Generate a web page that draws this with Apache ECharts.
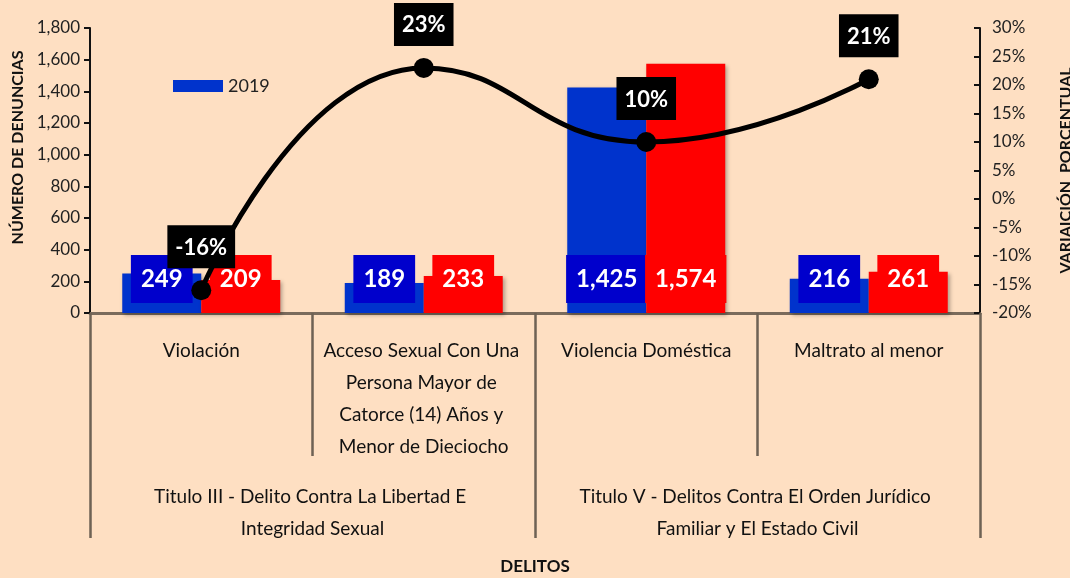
<!DOCTYPE html>
<html>
<head>
<meta charset="utf-8">
<script src="https://cdn.jsdelivr.net/npm/echarts@6/dist/echarts.min.js"></script>
<style>
	html, body { margin: 0; padding: 0; background: #FEDFC2; }
	#main { width: 1070px; height: 578px; }
</style>
</head>
<body>
<div id="main"></div>
<script>
	const categories = ['Violación', 'Acceso Sexual Con Una Persona Mayor de Catorce (14) Años y Menor de Dieciocho', 'Violencia Doméstica', 'Maltrato al menor']
	const groups = ['Titulo III - Delito Contra La Libertad E Integridad Sexual', 'Titulo V - Delitos Contra El Orden Jurídico Familiar y El Estado Civil']
	const values2019 = [249, 189, 1425, 216]
	const values2020 = [209, 233, 1574, 261]
	const variation = [-16, 23, 10, 21]

	const font = 'Lato, "Noto Sans", sans-serif'
	const chart = echarts.init(document.getElementById('main'))

	function barLabel(bg) {
		return {
			show: true,
			position: 'insideBottom',
			distance: 10,
			backgroundColor: bg,
			padding: [9, 10, 9, 10],
			color: '#fff',
			fontSize: 24,
			fontWeight: 'bold',
			fontFamily: font,
			lineHeight: 30,
			formatter: p => p.value.toLocaleString('en-US')
		}
	}

	let option = {
		backgroundColor: '#FEDFC2',
		animation: false,
		textStyle: { fontFamily: font },
		grid: { left: 90, right: 90, top: 28, bottom: 265, outerBoundsMode: 'none', containLabel: false },
		legend: {
			data: ['2019'],
			left: 168,
			top: 72,
			itemWidth: 50,
			itemHeight: 12,
			icon: 'rect',
			textStyle: { fontSize: 18, color: '#222', fontFamily: font }
		},
		xAxis: [{
			type: 'category',
			data: categories,
			axisLine: { onZero: false, lineStyle: { color: '#7a6b5c', width: 3 } },
			axisTick: { show: true, interval: 0, length: 143, lineStyle: { color: '#6e6254', width: 2.5 } },
			axisLabel: {
				interval: 0,
				margin: 22,
				width: 215,
				overflow: 'break',
				fontSize: 19,
				lineHeight: 32,
				color: '#111',
				fontFamily: font
			}
		}, {
			type: 'category',
			data: groups,
			position: 'bottom',
			axisLine: { show: false, onZero: false },
			axisTick: { show: true, interval: 0, length: 225, lineStyle: { color: '#6e6254', width: 2.5 } },
			axisLabel: {
				interval: 0,
				margin: 168,
				width: 400,
				overflow: 'break',
				fontSize: 19,
				lineHeight: 32,
				color: '#111',
				fontFamily: font
			},
			name: 'DELITOS',
			nameLocation: 'middle',
			nameGap: 245,
			nameTextStyle: { fontSize: 17, fontWeight: 'bold', color: '#111', fontFamily: font }
		}],
		yAxis: [{
			type: 'value',
			min: 0,
			max: 1800,
			interval: 200,
			splitLine: { show: false },
			axisLine: { show: true, lineStyle: { color: '#111', width: 2 } },
			axisTick: { show: true, length: 6, lineStyle: { color: '#111', width: 2 } },
			axisLabel: { fontSize: 17, color: '#222', margin: 10, fontFamily: font, formatter: v => v.toLocaleString('en-US') },
			name: 'NÚMERO DE DENUNCIAS',
			nameLocation: 'middle',
			nameRotate: 90,
			nameGap: 46,
			nameTextStyle: { fontSize: 16, fontWeight: 'bold', color: '#111', fontFamily: font, padding: [0, 0, 0, 46] }
		}, {
			type: 'value',
			min: -20,
			max: 30,
			interval: 5,
			splitLine: { show: false },
			axisLine: { show: true, lineStyle: { color: '#111', width: 2 } },
			axisTick: { show: true, inside: true, length: 6, lineStyle: { color: '#111', width: 2 } },
			axisLabel: { fontSize: 17, color: '#222', margin: 12, fontFamily: font, formatter: '{value}%' },
			name: 'VARIAICIÓN  PORCENTUAL',
			nameLocation: 'middle',
			nameRotate: 90,
			nameGap: 78,
			nameTextStyle: { fontSize: 16, fontWeight: 'bold', color: '#111', fontFamily: font }
		}],
		series: [{
			name: '2019',
			type: 'bar',
			data: values2019,
			barGap: '0%',
			barCategoryGap: '29%',
			itemStyle: { color: '#0033CC', shadowColor: 'rgba(0,0,0,0.3)', shadowBlur: 4, shadowOffsetX: 2, shadowOffsetY: 2 },
			label: barLabel('#0000CC')
		}, {
			name: '2020',
			type: 'bar',
			data: values2020,
			itemStyle: { color: '#FF0000', shadowColor: 'rgba(0,0,0,0.3)', shadowBlur: 4, shadowOffsetX: 2, shadowOffsetY: 2 },
			label: barLabel('#FF0000')
		}, {
			name: 'Variación',
			type: 'line',
			yAxisIndex: 1,
			data: variation,
			smooth: true,
			z: 5,
			symbol: 'circle',
			symbolSize: 20,
			lineStyle: { color: '#000', width: 5 },
			itemStyle: { color: '#000' },
			label: {
				show: true,
				position: 'top',
				distance: 12,
				backgroundColor: '#000',
				padding: [8, 8, 6, 8],
				color: '#fff',
				fontSize: 22,
				fontWeight: 'bold',
				lineHeight: 29,
				fontFamily: font,
				formatter: '{c}%'
			}
		}]
	}
	chart.setOption(option)
</script>
</body>
</html>
